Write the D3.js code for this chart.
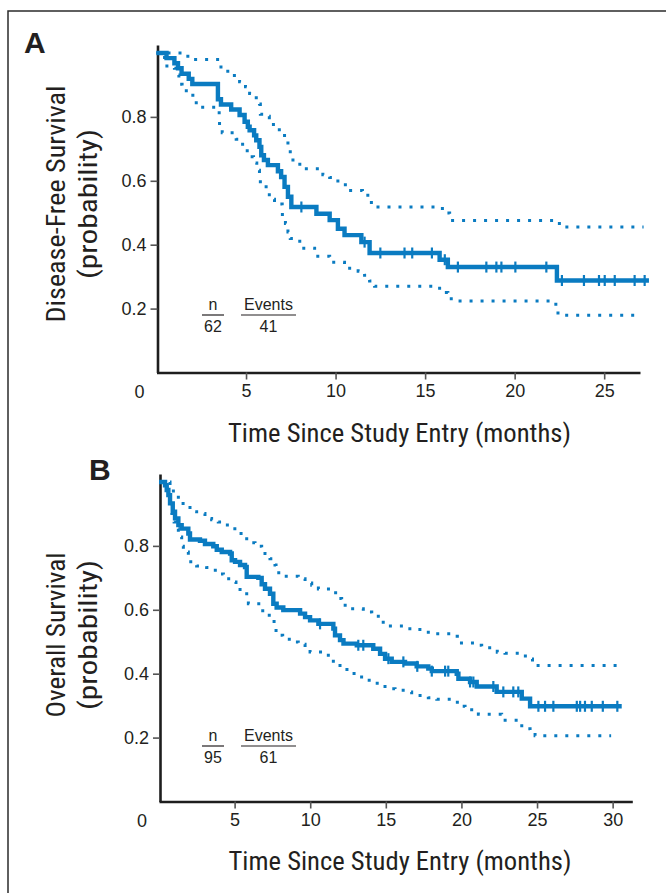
<!DOCTYPE html>
<html>
<head>
<meta charset="utf-8">
<script src="https://cdn.jsdelivr.net/npm/d3@7"></script>
<style>
  html, body { margin: 0; padding: 0; background: #fff; }
  svg { display: block; }
  text { font-family: "Liberation Sans", Arial, Helvetica, sans-serif; fill: #231f20; }
  .cond { font-family: "Liberation Sans Narrow", "Roboto Condensed", "Liberation Sans", Arial, sans-serif; }
</style>
</head>
<body>
<svg id="chart" width="666" height="893"></svg>
<script>
// ---------------- DATA ----------------
const yTicks = [0.2, 0.4, 0.6, 0.8];
const dfsXTicks = [5, 10, 15, 20, 25];
const osXTicks = [5, 10, 15, 20, 25, 30];
const cornerLabel = "0";
const xTitle = "Time Since Study Entry (months)";
const dfsYTitle = ["Disease-Free Survival", "(probability)"];
const osYTitle = ["Overall Survival", "(probability)"];
const legendHeads = ["n", "Events"];
const dfsLegend = ["62", "41"];
const osLegend = ["95", "61"];

// Panel A: disease-free survival (time in months, probability)
const dfsSurv = [[0,1.0],[0.56,0.984],[1.0,0.968],[1.2,0.952],[1.4,0.935],[1.8,0.919],[2.0,0.903],
  [3.43,0.855],[3.6,0.839],[4.17,0.823],[4.64,0.806],[4.92,0.785],[5.1,0.769],[5.2,0.758],[5.45,0.742],
  [5.57,0.727],[5.75,0.706],[5.85,0.68],[6.0,0.665],[6.22,0.649],[6.78,0.63],[6.96,0.612],[7.15,0.581],
  [7.34,0.55],[7.53,0.518],[8.93,0.497],[9.67,0.477],[10.13,0.45],[10.5,0.43],[11.44,0.408],[11.9,0.374],
  [15.81,0.353],[16.27,0.33],[22.36,0.288],[27.5,0.288]];
const dfsCensor = [8.09, 11.62, 12.5, 13.85, 14.28, 15.38, 16.1, 16.83, 18.42, 18.98, 19.26, 20.04, 21.77,
  22.64, 23.87, 24.71, 25.03, 25.59, 26.7, 27.26];
const dfsUpper = [[0,1.0],[1.75,0.98],[3.5,0.97],[3.6,0.943],[4.35,0.922],[4.64,0.91],[4.97,0.894],[5.2,0.873],
  [5.57,0.86],[5.75,0.84],[5.8,0.808],[6.22,0.802],[6.3,0.776],[6.65,0.76],[7.02,0.748],[7.15,0.725],
  [7.34,0.698],[7.47,0.675],[7.62,0.652],[8.19,0.638],[9.29,0.619],[9.67,0.61],[10.04,0.599],[10.41,0.588],
  [10.65,0.57],[11.5,0.555],[11.9,0.544],[12.0,0.518],[15.81,0.513],[16.2,0.499],[16.37,0.476],
  [22.33,0.466],[22.64,0.455],[27.2,0.455]];
const dfsLower = [[0,1.0],[0.45,0.959],[1.0,0.952],[1.1,0.931],[1.25,0.902],[1.43,0.882],[1.75,0.868],
  [2.03,0.853],[2.22,0.83],[3.5,0.806],[3.52,0.771],[3.67,0.75],[4.45,0.73],[4.69,0.714],[4.97,0.694],
  [5.16,0.675],[5.42,0.656],[5.6,0.633],[5.75,0.61],[5.8,0.581],[6.22,0.571],[6.3,0.542],[6.59,0.527],
  [7.02,0.518],[7.03,0.485],[7.2,0.466],[7.34,0.44],[7.47,0.419],[8.0,0.389],[8.83,0.364],[9.67,0.345],
  [10.5,0.326],[11.26,0.317],[11.62,0.304],[11.9,0.286],[12.18,0.27],[15.81,0.25],[16.27,0.243],
  [16.46,0.224],[22.3,0.208],[22.42,0.179],[27.0,0.179]];

// Panel B: overall survival
const osSurv = [[0,1.0],[0.4,0.99],[0.51,0.975],[0.62,0.959],[0.73,0.933],[0.91,0.907],[1.06,0.886],
  [1.28,0.865],[1.5,0.854],[1.94,0.839],[2.05,0.82],[2.71,0.816],[3.04,0.806],[3.59,0.799],[3.82,0.788],
  [4.15,0.781],[4.7,0.776],[4.81,0.755],[5.03,0.75],[5.36,0.74],[5.69,0.734],[5.8,0.703],[6.57,0.7],
  [6.79,0.68],[7.01,0.666],[7.34,0.65],[7.56,0.619],[7.78,0.607],[8.22,0.599],[9.33,0.588],[9.66,0.577],
  [9.99,0.567],[10.54,0.556],[11.53,0.541],[11.64,0.52],[11.97,0.505],[12.2,0.494],[13.08,0.489],
  [14.17,0.478],[14.62,0.462],[14.95,0.447],[15.39,0.437],[16.27,0.432],[17.04,0.423],[17.81,0.416],
  [18.04,0.408],[19.69,0.40],[19.8,0.384],[20.57,0.374],[21.01,0.36],[22.33,0.343],[23.99,0.322],
  [24.54,0.298],[30.6,0.298]];
const osCensor = [10.65, 13.18, 13.51, 15.17, 16.16, 17.08, 18.04, 18.92, 19.13, 20.57, 20.79, 22.11, 22.77,
  23.43, 23.76, 25.09, 25.53, 26.08, 27.63, 27.85, 28.17, 28.62, 29.35, 30.31];
const osUpper = [[0,1.0],[0.73,0.98],[0.95,0.959],[1.28,0.933],[1.72,0.925],[2.05,0.907],[2.49,0.901],
  [3.04,0.886],[3.48,0.882],[3.92,0.875],[4.37,0.865],[4.81,0.854],[5.14,0.839],[5.58,0.831],[5.8,0.81],
  [6.35,0.799],[6.79,0.787],[7.01,0.776],[7.34,0.76],[7.67,0.74],[7.74,0.716],[8.22,0.705],[9.21,0.697],
  [9.66,0.684],[10.1,0.677],[10.54,0.665],[11.48,0.653],[11.79,0.635],[12.08,0.614],[12.52,0.603],
  [13.51,0.593],[14.07,0.58],[14.62,0.561],[15.17,0.549],[16.27,0.541],[16.82,0.538],[17.81,0.525],
  [19.51,0.517],[19.73,0.496],[20.9,0.489],[21.34,0.481],[22.37,0.467],[22.88,0.464],[23.99,0.455],
  [24.5,0.446],[24.7,0.426],[30.3,0.426]];
const osLower = [[0,1.0],[0.51,0.985],[0.73,0.959],[0.84,0.933],[0.85,0.901],[1.0,0.875],[1.17,0.854],
  [1.28,0.828],[1.5,0.799],[1.61,0.781],[1.94,0.771],[2.1,0.745],[2.49,0.737],[3.15,0.732],[3.59,0.724],
  [3.92,0.712],[4.26,0.697],[4.81,0.687],[5.09,0.672],[5.36,0.659],[5.8,0.643],[5.91,0.619],[6.75,0.597],
  [7.12,0.583],[7.61,0.547],[7.74,0.52],[8.18,0.508],[8.78,0.499],[9.21,0.492],[9.66,0.483],[9.99,0.468],
  [11.09,0.458],[11.53,0.431],[11.97,0.413],[12.9,0.39],[13.9,0.37],[14.62,0.36],[15.17,0.353],
  [15.61,0.348],[16.27,0.343],[16.71,0.332],[17.81,0.325],[18.37,0.32],[19.73,0.298],[20.24,0.287],
  [21.12,0.273],[22.66,0.254],[23.99,0.228],[24.54,0.223],[24.87,0.206],[29.9,0.206]];

// ---------------- DRAW ----------------
const svg = d3.select("#chart");
const BLUE = "#0a7bc1";

svg.append("rect").attr("x", 8).attr("y", 11).attr("width", 720).attr("height", 920)
  .attr("fill", "none").attr("stroke", "#2b2b2b").attr("stroke-width", 1.5);

function stepValue(arr, t) {
  let v = arr[0][1];
  for (const p of arr) if (p[0] <= t) v = p[1];
  return v;
}

function panel(cfg) {
  const g = svg.append("g");
  const x = d3.scaleLinear().domain([0, cfg.xMax]).range(cfg.xRange);
  const y = d3.scaleLinear().domain([0, 1.025]).range(cfg.yRange);
  const axisY0 = cfg.yRange[0];

  // x axis
  const xa = g.append("g").attr("transform", `translate(0,${axisY0})`)
    .call(d3.axisBottom(x).tickValues(cfg.xTicks).tickSize(7).tickSizeOuter(0).tickPadding(5)
      .tickFormat(d3.format("d")));
  xa.select(".domain").attr("stroke", "#1e1e1e").attr("stroke-width", 2.6);
  xa.selectAll(".tick line").attr("stroke", "#555").attr("stroke-width", 1.6);
  xa.selectAll(".tick text").attr("font-size", 18).attr("fill", "#231f20")
    .attr("font-family", "Liberation Sans, Arial, sans-serif");

  // y axis
  const ya = g.append("g").attr("transform", `translate(${x(0) + 1},0)`)
    .call(d3.axisLeft(y).tickValues(yTicks).tickSize(7).tickSizeOuter(0).tickPadding(4)
      .tickFormat(d3.format(".1f")));
  ya.select(".domain").attr("stroke", "#1e1e1e").attr("stroke-width", 2.6);
  ya.selectAll(".tick line").attr("stroke", "#555").attr("stroke-width", 1.6);
  ya.selectAll(".tick text").attr("font-size", 18).attr("fill", "#231f20")
    .attr("font-family", "Liberation Sans, Arial, sans-serif");

  // corner zero
  g.append("text").attr("x", x(0) - 17).attr("y", axisY0 + 25).attr("text-anchor", "middle")
    .attr("font-size", 18).text(cornerLabel);

  const line = d3.line().x(d => x(d[0])).y(d => y(d[1])).curve(d3.curveStepAfter);

  // confidence bands (dotted)
  [cfg.upper, cfg.lower].forEach(band => {
    g.append("path").datum(band).attr("d", line).attr("fill", "none")
      .attr("stroke", BLUE).attr("stroke-width", 3).attr("stroke-dasharray", "3,8");
  });

  // survival curve
  g.append("path").datum(cfg.surv).attr("d", line).attr("fill", "none")
    .attr("stroke", BLUE).attr("stroke-width", 4.4).attr("stroke-linejoin", "miter");

  // censor marks
  g.selectAll(".cens").data(cfg.censor).join("line")
    .attr("x1", d => x(d)).attr("x2", d => x(d))
    .attr("y1", d => y(stepValue(cfg.surv, d)) - 5.5)
    .attr("y2", d => y(stepValue(cfg.surv, d)) + 5.5)
    .attr("stroke", BLUE).attr("stroke-width", 2.2);

  // panel letter
  g.append("text").attr("x", cfg.letterPos[0]).attr("y", cfg.letterPos[1])
    .attr("font-size", 30).attr("font-weight", "bold").attr("fill", "#231f20").text(cfg.letter);

  // axis titles
  g.append("text").attr("class", "cond").attr("x", cfg.xTitlePos[0]).attr("y", cfg.xTitlePos[1])
    .attr("text-anchor", "middle").attr("font-size", 26)
    .attr("textLength", 343).attr("lengthAdjust", "spacingAndGlyphs").text(xTitle);

  cfg.yTitle.forEach((t, i) => {
    g.append("text").attr("class", "cond")
      .attr("transform", `translate(${cfg.yTitleX[i]},${cfg.yTitleCY}) rotate(-90)`)
      .attr("text-anchor", "middle").attr("font-size", 26)
      .attr("textLength", cfg.yTitleLen[i]).attr("lengthAdjust", "spacingAndGlyphs").text(t);
  });

  // legend
  const lg = g.append("g").attr("transform", `translate(0,${cfg.legendY})`);
  const cols = [{cx: 213, w: 22}, {cx: 268.5, w: 55}];
  cols.forEach((c, i) => {
    lg.append("text").attr("x", c.cx).attr("y", 0).attr("text-anchor", "middle")
      .attr("font-size", 16).text(legendHeads[i]);
    lg.append("line").attr("x1", c.cx - c.w / 2).attr("x2", c.cx + c.w / 2)
      .attr("y1", 5).attr("y2", 5).attr("stroke", "#231f20").attr("stroke-width", 1.2);
    lg.append("text").attr("x", c.cx).attr("y", 22).attr("text-anchor", "middle")
      .attr("font-size", 16).text(cfg.legendVals[i]);
  });
}

panel({
  xMax: 27, xRange: [156.5, 640], yRange: [372.5, 45], xTicks: dfsXTicks,
  surv: dfsSurv, upper: dfsUpper, lower: dfsLower, censor: dfsCensor,
  letter: "A", letterPos: [24, 53], xTitlePos: [399.5, 442],
  yTitle: dfsYTitle, yTitleX: [65, 97], yTitleCY: 204, yTitleLen: [237, 150],
  legendY: 310, legendVals: dfsLegend
});

panel({
  xMax: 31.3, xRange: [159, 632.3], yRange: [801.5, 474], xTicks: osXTicks,
  surv: osSurv, upper: osUpper, lower: osLower, censor: osCensor,
  letter: "B", letterPos: [89, 480], xTitlePos: [400, 870],
  yTitle: osYTitle, yTitleX: [65, 97], yTitleCY: 635, yTitleLen: [165, 150],
  legendY: 741, legendVals: osLegend
});
</script>
</body>
</html>
